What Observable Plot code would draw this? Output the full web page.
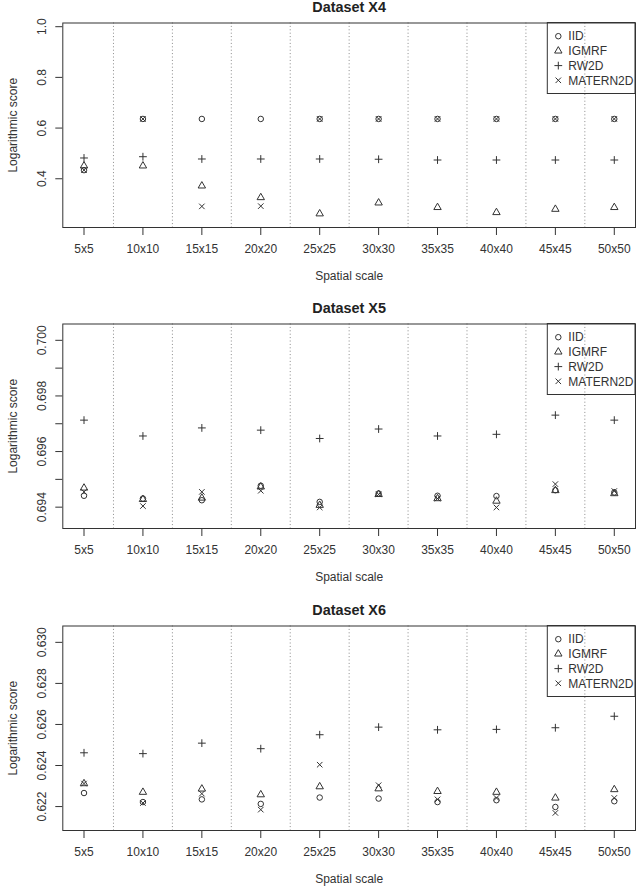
<!DOCTYPE html>
<html>
<head>
<meta charset="utf-8">
<script src="https://cdn.jsdelivr.net/npm/d3@7"></script>
<script src="https://cdn.jsdelivr.net/npm/@observablehq/plot@0.6"></script>
<style>
  html, body { margin: 0; padding: 0; background: #fff; }
  #charts svg { display: block; }
</style>
</head>
<body>
<div id="charts"></div>
<script>
// Spatial scales on the x axis
const spatialScales = ["5x5", "10x10", "15x15", "20x20", "25x25", "30x30", "35x35", "40x40", "45x45", "50x50"];
const seriesNames = ["IID", "IGMRF", "RW2D", "MATERN2D"];

// Dataset X4 — logarithmic scores
const x4Iid     = [0.434, 0.636, 0.636, 0.636, 0.636, 0.636, 0.636, 0.636, 0.636, 0.636];
const x4Igmrf   = [0.451, 0.451, 0.372, 0.326, 0.262, 0.305, 0.287, 0.267, 0.280, 0.287];
const x4Rw2d    = [0.482, 0.487, 0.478, 0.478, 0.478, 0.477, 0.474, 0.474, 0.474, 0.474];
const x4Matern  = [0.434, 0.636, 0.291, 0.292, 0.636, 0.636, 0.636, 0.636, 0.636, 0.636];
const x4Ticks   = [0.4, 0.6, 0.8, 1.0];
const x4Labels  = [0.4, 0.6, 0.8, 1.0];

// Dataset X5
const x5Iid     = [0.69441, 0.69431, 0.69425, 0.69477, 0.69419, 0.69449, 0.69441, 0.69440, 0.69461, 0.69453];
const x5Igmrf   = [0.69469, 0.69428, 0.69433, 0.69473, 0.69407, 0.69446, 0.69431, 0.69422, 0.69460, 0.69449];
const x5Rw2d    = [0.69713, 0.69656, 0.69685, 0.69677, 0.69647, 0.69681, 0.69656, 0.69662, 0.69731, 0.69713];
const x5Matern  = [0.69455, 0.69404, 0.69455, 0.69459, 0.69399, 0.69446, 0.69431, 0.69399, 0.69483, 0.69458];
const x5Ticks   = [0.694, 0.695, 0.696, 0.697, 0.698, 0.699, 0.700];
const x5Labels  = [0.694, 0.696, 0.698, 0.700];

// Dataset X6
const x6Iid     = [0.62266, 0.62222, 0.62235, 0.62213, 0.62244, 0.62239, 0.62222, 0.62231, 0.62198, 0.62226];
const x6Igmrf   = [0.62312, 0.62270, 0.62286, 0.62258, 0.62297, 0.62287, 0.62274, 0.62270, 0.62242, 0.62283];
const x6Rw2d    = [0.62462, 0.62458, 0.62509, 0.62482, 0.62550, 0.62587, 0.62574, 0.62576, 0.62584, 0.62640];
const x6Matern  = [0.62312, 0.62217, 0.62263, 0.62185, 0.62404, 0.62304, 0.62235, 0.62242, 0.62169, 0.62242];
const x6Ticks   = [0.622, 0.624, 0.626, 0.628, 0.630];
const x6Labels  = [0.622, 0.624, 0.626, 0.628, 0.630];

const ink = "#333";
const font = "'Liberation Sans', Arial, Helvetica, sans-serif";
const R = 2.75; // base symbol radius (open circle)

// Open plotting symbols: circle, triangle, plus, cross
const pchCircle = {draw(c, size) { const r = Math.sqrt(size / Math.PI); c.moveTo(r, 0); c.arc(0, 0, r, 0, 2 * Math.PI); }};
const pchTriangle = {draw(c, size) {
  const r = Math.sqrt(size / Math.PI), xc = r * 1.5551, h = xc * Math.sqrt(3) / 2;
  c.moveTo(0, -xc); c.lineTo(h, xc / 2); c.lineTo(-h, xc / 2); c.closePath();
}};
const pchPlus = {draw(c, size) {
  const a = Math.sqrt(size / Math.PI) * Math.SQRT2;
  c.moveTo(-a, 0); c.lineTo(a, 0); c.moveTo(0, -a); c.lineTo(0, a);
}};
const pchTimes = {draw(c, size) {
  const a = Math.sqrt(size / Math.PI);
  c.moveTo(-a, -a); c.lineTo(a, a); c.moveTo(-a, a); c.lineTo(a, -a);
}};
const seriesSymbols = [pchCircle, pchTriangle, pchPlus, pchTimes];

// Boxed legend in the top-right corner of the frame
function legendMark(index, scales, values, dimensions) {
  const {width, marginRight, marginTop} = dimensions;
  const w = 87.7, h = 71;
  const right = width - marginRight, left = right - w, top = marginTop;
  const g = d3.create("svg:g").attr("font-family", font).attr("font-size", 12).attr("text-anchor", "start");
  g.append("rect").attr("x", left).attr("y", top).attr("width", w).attr("height", h)
    .attr("fill", "none").attr("stroke", ink);
  seriesNames.forEach((name, k) => {
    const y = top + 13.7 + 14.7 * k;
    const p = d3.path();
    seriesSymbols[k].draw(p, Math.PI * R * R);
    g.append("path").attr("transform", `translate(${left + 11},${y})`).attr("d", p.toString())
      .attr("fill", "none").attr("stroke", ink);
    g.append("text").attr("x", left + 21).attr("y", y).attr("dy", "0.35em").attr("fill", ink).text(name);
  });
  return g.node();
}

function panel({title, series, yDomain, yTicks, yLabels, labelFormat, height}) {
  const marginTop = 22.5, innerHeight = 204.5;
  const rows = series.map(values => values.map((v, i) => ({i, v})));
  return Plot.plot({
    width: 640,
    height,
    marginTop,
    marginBottom: height - marginTop - innerHeight,
    marginLeft: 62.3,
    marginRight: 5,
    style: {fontFamily: font, fontSize: "12px", color: ink, background: "#fff"},
    x: {type: "linear", domain: [-0.36, 9.36], label: null},
    y: {domain: yDomain, label: null},
    marks: [
      Plot.ruleX(d3.range(spatialScales.length - 1), {x: d => d + 0.5, stroke: "#8a8a8a", strokeDasharray: "1,2.4"}),
      ...rows.map((data, k) => Plot.dot(data, {
        x: "i", y: "v", r: R, symbol: seriesSymbols[k], fill: "none", stroke: ink, strokeWidth: 1
      })),
      Plot.frame({stroke: ink}),
      Plot.axisX(d3.range(spatialScales.length), {
        tickSize: 8, tickPadding: 9.3, tickFormat: i => spatialScales[i], stroke: ink, fill: ink, fontSize: 12, label: null
      }),
      Plot.axisY(yTicks, {tickSize: 7, stroke: ink, fill: "none", label: null}),
      Plot.text(yLabels, {
        y: d => d, text: labelFormat, frameAnchor: "left", dx: -20.4, rotate: -90,
        textAnchor: "middle", lineAnchor: "middle", fill: ink, fontSize: 12
      }),
      Plot.text(["Logarithmic score"], {
        text: d => d, frameAnchor: "left", dx: -50, rotate: -90,
        textAnchor: "middle", lineAnchor: "middle", fill: ink, fontSize: 12
      }),
      Plot.text(["Spatial scale"], {
        text: d => d, frameAnchor: "bottom", dy: 52.8, lineAnchor: "bottom", fill: ink, fontSize: 12
      }),
      Plot.text([title], {
        text: d => d, frameAnchor: "top", dy: -10.6, lineAnchor: "bottom",
        fill: "#222", fontSize: 14.4, fontWeight: "bold"
      }),
      legendMark
    ]
  });
}

const charts = document.getElementById("charts");
charts.append(panel({
  title: "Dataset X4",
  series: [x4Iid, x4Igmrf, x4Rw2d, x4Matern],
  yDomain: [0.2077, 1.0146], yTicks: x4Ticks, yLabels: x4Labels,
  labelFormat: d => d.toFixed(1), height: 301
}));
charts.append(panel({
  title: "Dataset X5",
  series: [x5Iid, x5Igmrf, x5Rw2d, x5Matern],
  yDomain: [0.693233, 0.700587], yTicks: x5Ticks, yLabels: x5Labels,
  labelFormat: d => d.toFixed(3), height: 302
}));
charts.append(panel({
  title: "Dataset X6",
  series: [x6Iid, x6Igmrf, x6Rw2d, x6Matern],
  yDomain: [0.620834, 0.630797], yTicks: x6Ticks, yLabels: x6Labels,
  labelFormat: d => d.toFixed(3), height: 285
}));
</script>
</body>
</html>
